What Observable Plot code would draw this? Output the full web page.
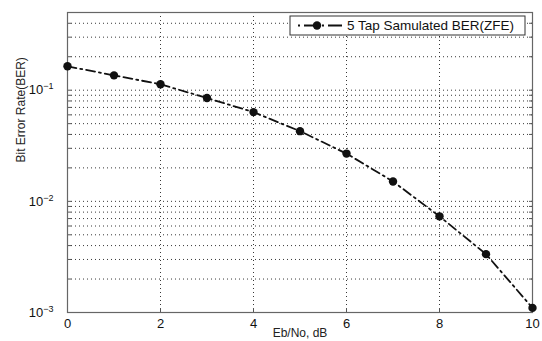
<!DOCTYPE html>
<html>
<head>
<meta charset="utf-8">
<script src="https://cdn.jsdelivr.net/npm/d3@7"></script>
<script src="https://cdn.jsdelivr.net/npm/@observablehq/plot@0.6"></script>
<style>
  html, body { margin: 0; padding: 0; background: #fff; }
  #chart svg { font-family: "Liberation Sans", Arial, sans-serif; }
</style>
</head>
<body>
<div id="chart"></div>
<script>
// Data
const ebno = [0, 1, 2, 3, 4, 5, 6, 7, 8, 9, 10];
const ber = [0.164, 0.136, 0.113, 0.085, 0.0635, 0.0428, 0.0269, 0.0151, 0.00733, 0.00335, 0.0011];
const seriesName = "5 Tap Samulated BER(ZFE)";
const xTicks = [0, 2, 4, 6, 8, 10];
const xGrid = [2, 4, 6, 8];
const yMajor = [1e-3, 1e-2, 1e-1];
const yMinor = [2e-3,3e-3,4e-3,5e-3,6e-3,7e-3,8e-3,9e-3,2e-2,3e-2,4e-2,5e-2,6e-2,7e-2,8e-2,9e-2,0.2,0.3,0.4];
const xLabel = "Eb/No, dB";
const yLabel = "Bit Error Rate(BER)";

const data = ebno.map((x, i) => ({x, y: ber[i]}));
const gridStyle = {stroke: "#222", strokeOpacity: 0.9, strokeWidth: 1, strokeDasharray: "1,3"};

const plot = Plot.plot({
  width: 542,
  height: 341,
  marginLeft: 67,
  marginRight: 10,
  marginTop: 12,
  marginBottom: 29,
  style: {fontFamily: "Liberation Sans, Arial, sans-serif", background: "#fff"},
  x: {domain: [0, 10]},
  y: {type: "log", domain: [1e-3, 0.5]},
  marks: [
    Plot.ruleY([...yMinor, 1e-2, 1e-1], gridStyle),
    Plot.ruleX(xGrid, gridStyle),
    Plot.axisY([...yMinor, ...yMajor], {anchor: "left", tickSize: -4, tickFormat: () => "", stroke: "#555", label: null}),
    Plot.axisY([...yMinor, ...yMajor], {anchor: "right", tickSize: -4, tickFormat: () => "", stroke: "#555", label: null}),
    Plot.axisX(xTicks, {anchor: "bottom", tickSize: -4, tickPadding: 10, fontSize: 13, stroke: "#555", fill: "#111", label: null}),
    Plot.axisY(yMajor, {anchor: "left", tickSize: 0, tickPadding: 14, fontSize: 13, fill: "#111", label: null,
      tickFormat: d => "10^" + Math.round(Math.log10(d))}),
    Plot.frame({stroke: "#666", strokeWidth: 1.2}),
    Plot.line(data, {x: "x", y: "y", stroke: "#111", strokeWidth: 1.8, strokeDasharray: "9,4,2,4"}),
    Plot.dot(data, {x: "x", y: "y", fill: "#111", r: 4.2, symbol: "circle"}),
    Plot.text([xLabel], {frameAnchor: "bottom", dy: 24, fontSize: 12, fill: "#222"}),
    Plot.text([yLabel], {frameAnchor: "left", dx: -46, rotate: -90, fontSize: 12, fill: "#222"})
  ]
});
document.getElementById("chart").appendChild(plot);

// Superscript exponents on the y tick labels
const svg = d3.select(plot);
svg.selectAll("text").each(function() {
  const t = d3.select(this);
  const s = t.text();
  const m = /^10\^(-?\d+)$/.exec(s);
  if (!m) return;
  t.text(null);
  t.append("tspan").text("10");
  t.append("tspan").attr("dy", "-0.55em").attr("font-size", "9px").text(m[1].replace("-", "−"));
});

// Legend box inside the plot (top right)
const xs = plot.scale("x"), ys = plot.scale("y");
const frameRight = xs.range[1], frameTop = ys.range[1];
const lg = svg.append("g").attr("text-anchor", "start");
const bx = frameRight - 242, by = frameTop + 4, bw = 235, bh = 19;
lg.append("rect").attr("x", bx).attr("y", by).attr("width", bw).attr("height", bh)
  .attr("fill", "#fff").attr("stroke", "#333").attr("stroke-width", 1);
lg.append("line").attr("x1", bx + 8).attr("x2", bx + 52).attr("y1", by + bh/2).attr("y2", by + bh/2)
  .attr("stroke", "#111").attr("stroke-width", 1.8).attr("stroke-dasharray", "2,4,14,4");
lg.append("circle").attr("cx", bx + 27).attr("cy", by + bh/2).attr("r", 4.2).attr("fill", "#111");
lg.append("text").attr("x", bx + 57).attr("y", by + bh/2).attr("dy", "0.36em")
  .attr("text-anchor", "start").attr("font-size", 13.5).attr("fill", "#111").text(seriesName);
</script>
</body>
</html>
